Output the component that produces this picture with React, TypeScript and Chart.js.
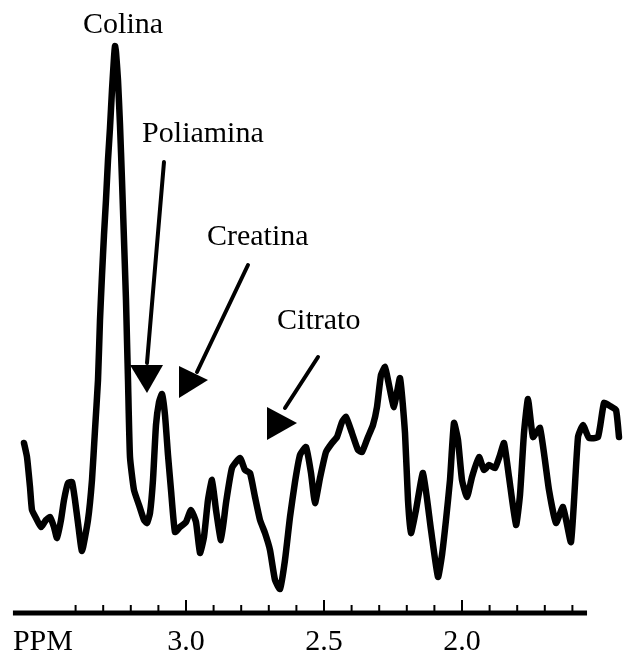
import { useEffect, useRef } from "react";
import { Chart, registerables } from "chart.js";

Chart.register(...registerables);

// Chemical shift (ppm) of each traced point of the spectrum
const PPM = [
  3.587, 3.5761, 3.5652, 3.558, 3.5435, 3.5254, 3.5072, 3.4928, 3.4783, 3.4674,
  3.4529, 3.442, 3.4275, 3.413, 3.4022, 3.3913, 3.3768, 3.3551, 3.3406, 3.3297,
  3.3188, 3.3116, 3.3043, 3.2971, 3.2899, 3.2826, 3.2754, 3.2681, 3.2609, 3.2572,
  3.2536, 3.2464, 3.2391, 3.2319, 3.2246, 3.2174, 3.2138, 3.2101, 3.2029, 3.1884,
  3.1703, 3.1522, 3.1413, 3.1304, 3.1196, 3.1087, 3.0978, 3.087, 3.0761, 3.0652,
  3.0543, 3.0399, 3.0217, 3.0, 2.9819, 2.9638, 2.9493, 2.9348, 2.9203, 2.9058,
  2.8913, 2.8732, 2.8551, 2.8333, 2.8043, 2.7862, 2.7681, 2.75, 2.7319, 2.7138,
  2.6957, 2.6775, 2.6594, 2.6413, 2.6232, 2.6051, 2.587, 2.5652, 2.5471, 2.5326,
  2.5145, 2.4928, 2.471, 2.4529, 2.4348, 2.4203, 2.3986, 2.3768, 2.3623, 2.3406,
  2.3225, 2.308, 2.2935, 2.279, 2.2645, 2.2464, 2.2246, 2.2065, 2.1957, 2.1848,
  2.1667, 2.1413, 2.1123, 2.087, 2.0725, 2.058, 2.0435, 2.029, 2.0145, 2.0,
  1.9819, 1.9638, 1.9384, 1.9203, 1.9022, 1.8804, 1.8623, 1.8478, 1.8297, 1.8043,
  1.7899, 1.7754, 1.7609, 1.7428, 1.7174, 1.6848, 1.6594, 1.6341, 1.6051, 1.5797,
  1.5616, 1.5399, 1.5072, 1.4855, 1.4638, 1.442, 1.4312,
];

// Signal intensity (arbitrary units) at each point
const INTENSITY = [
  170, 156, 126, 103, 95, 86, 93, 96, 86, 75,
  93, 113, 130, 131, 113, 90, 62, 93, 133, 183,
  233, 293, 338, 378, 413, 453, 485, 523, 555, 567,
  561, 533, 488, 433, 373, 313, 273, 233, 156, 123,
  108, 93, 90, 100, 133, 188, 211, 219, 198, 158,
  123, 81, 86, 91, 103, 91, 60, 76, 113, 133,
  103, 73, 110, 145, 155, 143, 140, 116, 93, 80,
  63, 33, 24, 53, 96, 131, 158, 166, 140, 110,
  135, 161, 170, 176, 191, 196, 180, 163, 161, 176,
  188, 206, 238, 246, 228, 206, 235, 180, 113, 80,
  103, 140, 83, 36, 58, 93, 133, 190, 173, 133,
  116, 136, 156, 143, 148, 145, 158, 170, 136, 88,
  118, 180, 214, 176, 185, 123, 90, 106, 71, 176,
  188, 175, 176, 210, 207, 203, 176,
];

const MAJOR_TICKS = [3.0, 2.5, 2.0];
const MAJOR_LABELS = ["3.0", "2.5", "2.0"];
const MINOR_TICKS = [3.4, 3.3, 3.2, 3.1, 2.9, 2.8, 2.7, 2.6, 2.4, 2.3, 2.2, 2.1, 1.9, 1.8, 1.7, 1.6];
const AXIS_START = 3.627;
const AXIS_END = 1.547;
const AXIS_TITLE = "PPM";

const PEAK_NAMES = ["Colina", "Poliamina", "Creatina", "Citrato"];
const NAME_PPM = [3.228, 3.159, 2.924, 2.67];
const NAME_LEVEL = [580, 471, 368, 284];
const NAME_ALIGN: CanvasTextAlign[] = ["center", "left", "left", "left"];

// arrows: shaft [ppm1, level1, ppm2, level2], head triangle [ppm, level] x3
const ARROW_SHAFTS = [
  [3.0797, 451, 3.1413, 250],
  [2.7754, 348, 2.9601, 241],
  [2.5217, 256, 2.6413, 205],
];
const ARROW_HEADS = [
  [[3.2029, 248], [3.0833, 248], [3.1413, 220]],
  [[3.0254, 247], [2.9203, 233], [3.0254, 215]],
  [[2.7065, 206], [2.5978, 190], [2.7065, 173]],
];

const FONT = '30px "Liberation Serif", "Times New Roman", serif';

const overlay = {
  id: "overlay",
  afterDraw(chart: any) {
    const ctx: CanvasRenderingContext2D = chart.ctx;
    const xs = chart.scales.x;
    const ys = chart.scales.y;
    const px = (v: number) => xs.getPixelForValue(v);
    const py = (v: number) => ys.getPixelForValue(v);
    ctx.save();
    ctx.fillStyle = "#000";
    ctx.strokeStyle = "#000";

    // axis line
    const base = py(0);
    ctx.lineWidth = 5;
    ctx.lineCap = "butt";
    ctx.beginPath();
    ctx.moveTo(px(AXIS_START), base);
    ctx.lineTo(px(AXIS_END), base);
    ctx.stroke();

    // ticks (pointing up)
    ctx.lineWidth = 2;
    MINOR_TICKS.forEach((t) => {
      ctx.beginPath();
      ctx.moveTo(px(t), base);
      ctx.lineTo(px(t), base - 8);
      ctx.stroke();
    });
    MAJOR_TICKS.forEach((t) => {
      ctx.beginPath();
      ctx.moveTo(px(t), base);
      ctx.lineTo(px(t), base - 13);
      ctx.stroke();
    });

    // labels
    ctx.font = FONT;
    ctx.textBaseline = "alphabetic";
    ctx.textAlign = "center";
    MAJOR_TICKS.forEach((t, i) => ctx.fillText(MAJOR_LABELS[i], px(t), base + 37));
    ctx.textAlign = "left";
    ctx.fillText(AXIS_TITLE, px(AXIS_START), base + 37);

    // peak names
    PEAK_NAMES.forEach((name, i) => {
      ctx.textAlign = NAME_ALIGN[i];
      ctx.fillText(name, px(NAME_PPM[i]), py(NAME_LEVEL[i]));
    });

    // arrows
    ctx.lineWidth = 4;
    ctx.lineCap = "round";
    ARROW_SHAFTS.forEach((s) => {
      ctx.beginPath();
      ctx.moveTo(px(s[0]), py(s[1]));
      ctx.lineTo(px(s[2]), py(s[3]));
      ctx.stroke();
    });
    ARROW_HEADS.forEach((h) => {
      ctx.beginPath();
      ctx.moveTo(px(h[0][0]), py(h[0][1]));
      ctx.lineTo(px(h[1][0]), py(h[1][1]));
      ctx.lineTo(px(h[2][0]), py(h[2][1]));
      ctx.closePath();
      ctx.fill();
    });
    ctx.restore();
  },
};

export default function App() {
  const ref = useRef<HTMLCanvasElement | null>(null);
  useEffect(() => {
    document.body.style.margin = "0";
    document.body.style.background = "#fff";
    const canvas = ref.current;
    if (!canvas) return;
    const chart = new Chart(canvas, {
      type: "line",
      data: {
        datasets: [
          {
            data: PPM.map((p, i) => ({ x: p, y: INTENSITY[i] })),
            borderColor: "#000",
            borderWidth: 6.5,
            pointRadius: 0,
            tension: 0.15,
            borderJoinStyle: "round",
            borderCapStyle: "round",
            fill: false,
            clip: false as any,
          },
        ],
      },
      options: {
        animation: false,
        responsive: false,
        maintainAspectRatio: false,
        devicePixelRatio: 1,
        layout: { padding: { left: 12, right: 2, top: 13, bottom: 40 } },
        plugins: { legend: { display: false }, tooltip: { enabled: false } },
        scales: {
          x: { type: "linear", reverse: true, min: 1.4203, max: 3.6304, display: false },
          y: { type: "linear", min: 0, max: 600, display: false },
        },
      },
      plugins: [overlay],
    });
    return () => chart.destroy();
  }, []);
  return <canvas ref={ref} width={624} height={653} style={{ display: "block" }} />;
}
